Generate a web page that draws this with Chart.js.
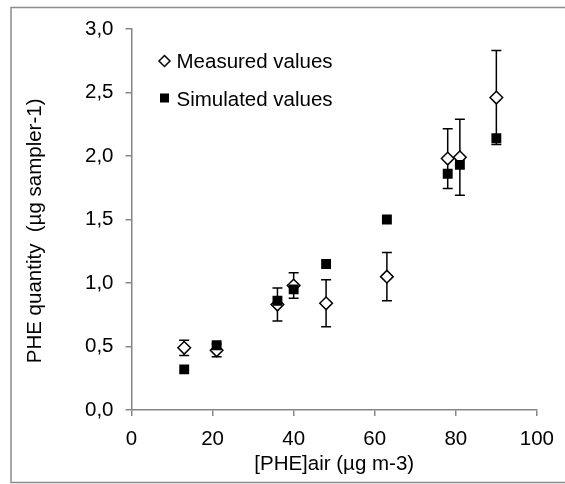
<!DOCTYPE html>
<html>
<head>
<meta charset="utf-8">
<script src="https://cdn.jsdelivr.net/npm/chart.js@4.4.1/dist/chart.umd.min.js"></script>
<style>
    html, body { margin: 0; padding: 0; background: #ffffff; }
</style>
</head>
<body>
<canvas id="phe-chart" width="565" height="484"></canvas>
<script>
// values
let air_concentration = [13, 21, 36, 40, 48, 63, 78, 81, 90];
let measured_values = [0.49, 0.47, 0.83, 0.98, 0.84, 1.05, 1.98, 1.99, 2.46];
let measured_errors = [0.06, 0.05, 0.13, 0.10, 0.185, 0.19, 0.235, 0.30, 0.37];
let simulated_values = [0.32, 0.51, 0.86, 0.95, 1.15, 1.50, 1.86, 1.93, 2.14];
let x_tick_labels = ['0', '20', '40', '60', '80', '100'];
let y_tick_labels = ['0,0', '0,5', '1,0', '1,5', '2,0', '2,5', '3,0'];
let legend_labels = ['Measured values', 'Simulated values'];

let font_family = "'Liberation Sans', Arial, sans-serif";
let font_size = 20.5;
let axis_gray = '#868686';


function to_points(values) {
    return values.map((v, i) => ({x: air_concentration[i], y: v}));
}

// vertical error bars with caps, drawn under the markers
const error_bars = {
    id: 'error_bars',
    beforeDatasetsDraw(chart) {
        let ctx = chart.ctx;
        let x_scale = chart.scales.x;
        let y_scale = chart.scales.y;
        ctx.save();
        ctx.strokeStyle = '#000000';
        ctx.lineWidth = 1.5;
        for (let i = 0; i < measured_values.length; i++) {
            let px = x_scale.getPixelForValue(air_concentration[i]);
            let top = y_scale.getPixelForValue(measured_values[i] + measured_errors[i]);
            let bottom = y_scale.getPixelForValue(measured_values[i] - measured_errors[i]);
            ctx.beginPath();
            ctx.moveTo(px, top);
            ctx.lineTo(px, bottom);
            ctx.moveTo(px - 5, top);
            ctx.lineTo(px + 5, top);
            ctx.moveTo(px - 5, bottom);
            ctx.lineTo(px + 5, bottom);
            ctx.stroke();
        }
        ctx.restore();
    }
};

// legend inside the plot, top left, plus the outer frame
const legend_and_frame = {
    id: 'legend_and_frame',
    afterDraw(chart) {
        let ctx = chart.ctx;
        ctx.save();

        ctx.strokeStyle = '#8c8c8c';
        ctx.lineWidth = 1.5;
        ctx.strokeRect(11, 7.5, 565, 475);

        let left = chart.chartArea.left;
        let top = chart.chartArea.top;

        // diamond
        let cx = left + 33, cy = top + 32;
        ctx.beginPath();
        ctx.moveTo(cx - 5.5, cy);
        ctx.lineTo(cx, cy - 5.5);
        ctx.lineTo(cx + 5.5, cy);
        ctx.lineTo(cx, cy + 5.5);
        ctx.closePath();
        ctx.fillStyle = '#ffffff';
        ctx.fill();
        ctx.lineWidth = 1.5;
        ctx.strokeStyle = '#000000';
        ctx.stroke();

        // square
        ctx.fillStyle = '#000000';
        ctx.fillRect(cx - 4.5, top + 69 - 4.5, 9, 9);

        ctx.font = font_size + 'px ' + font_family;
        ctx.textBaseline = 'alphabetic';
        ctx.textAlign = 'left';
        ctx.fillText(legend_labels[0], left + 45, top + 39);
        ctx.fillText(legend_labels[1], left + 45, top + 76.5);
        ctx.restore();
    }
};

document.addEventListener("DOMContentLoaded", () => {
    let ctx = document.getElementById('phe-chart');
    new Chart(ctx, {
        type: 'scatter',
        data: {
            datasets: [{
                label: legend_labels[0],
                data: to_points(measured_values),
                pointStyle: 'rectRot',
                pointRadius: 6.3,
                pointBorderWidth: 1.5,
                pointBackgroundColor: '#ffffff',
                pointBorderColor: '#000000',
                order: 1,
            }, {
                label: legend_labels[1],
                data: to_points(simulated_values),
                pointStyle: 'rect',
                pointRadius: 7,
                pointBorderWidth: 0,
                pointBackgroundColor: '#000000',
                pointBorderColor: '#000000',
                order: 0,
            }]
        },
        options: {
            responsive: false,
            animation: false,
            layout: {
                padding: {top: 29, right: 25, bottom: 7, left: 0}
            },
            plugins: {
                legend: {display: false},
                tooltip: {enabled: false},
            },
            scales: {
                x: {
                    type: 'linear',
                    min: 0,
                    max: 100,
                    afterFit: (scale) => { scale.height = 67; },
                    ticks: {
                        stepSize: 20,
                        padding: 11,
                        color: '#000000',
                        font: {family: font_family, size: font_size},
                        callback: (value, index) => x_tick_labels[index],
                    },
                    grid: {
                        drawOnChartArea: false,
                        drawTicks: true,
                        tickLength: 6,
                        color: axis_gray,
                        lineWidth: 1.5,
                    },
                    border: {color: axis_gray, width: 1.5},
                    title: {
                        display: true,
                        text: '[PHE]air (µg m-3)',
                        color: '#000000',
                        font: {family: font_family, size: font_size},
                        padding: {top: 0, bottom: 0},
                    },
                },
                y: {
                    min: 0,
                    max: 3,
                    afterFit: (scale) => { scale.width = 131.5; },
                    ticks: {
                        stepSize: 0.5,
                        padding: 12,
                        color: '#000000',
                        font: {family: font_family, size: font_size},
                        callback: (value, index) => y_tick_labels[index],
                    },
                    grid: {
                        drawOnChartArea: false,
                        drawTicks: true,
                        tickLength: 6,
                        color: axis_gray,
                        lineWidth: 1.5,
                    },
                    border: {color: axis_gray, width: 1.5},
                    title: {
                        display: true,
                        // trailing spaces push the label down a little, as in the original
                        text: 'PHE quantity  (µg sampler-1)    ',
                        color: '#000000',
                        font: {family: font_family, size: font_size},
                        padding: {top: 23, bottom: 0},
                    },
                },
            },
        },
        plugins: [error_bars, legend_and_frame],
    });
})
</script>
</body>
</html>
